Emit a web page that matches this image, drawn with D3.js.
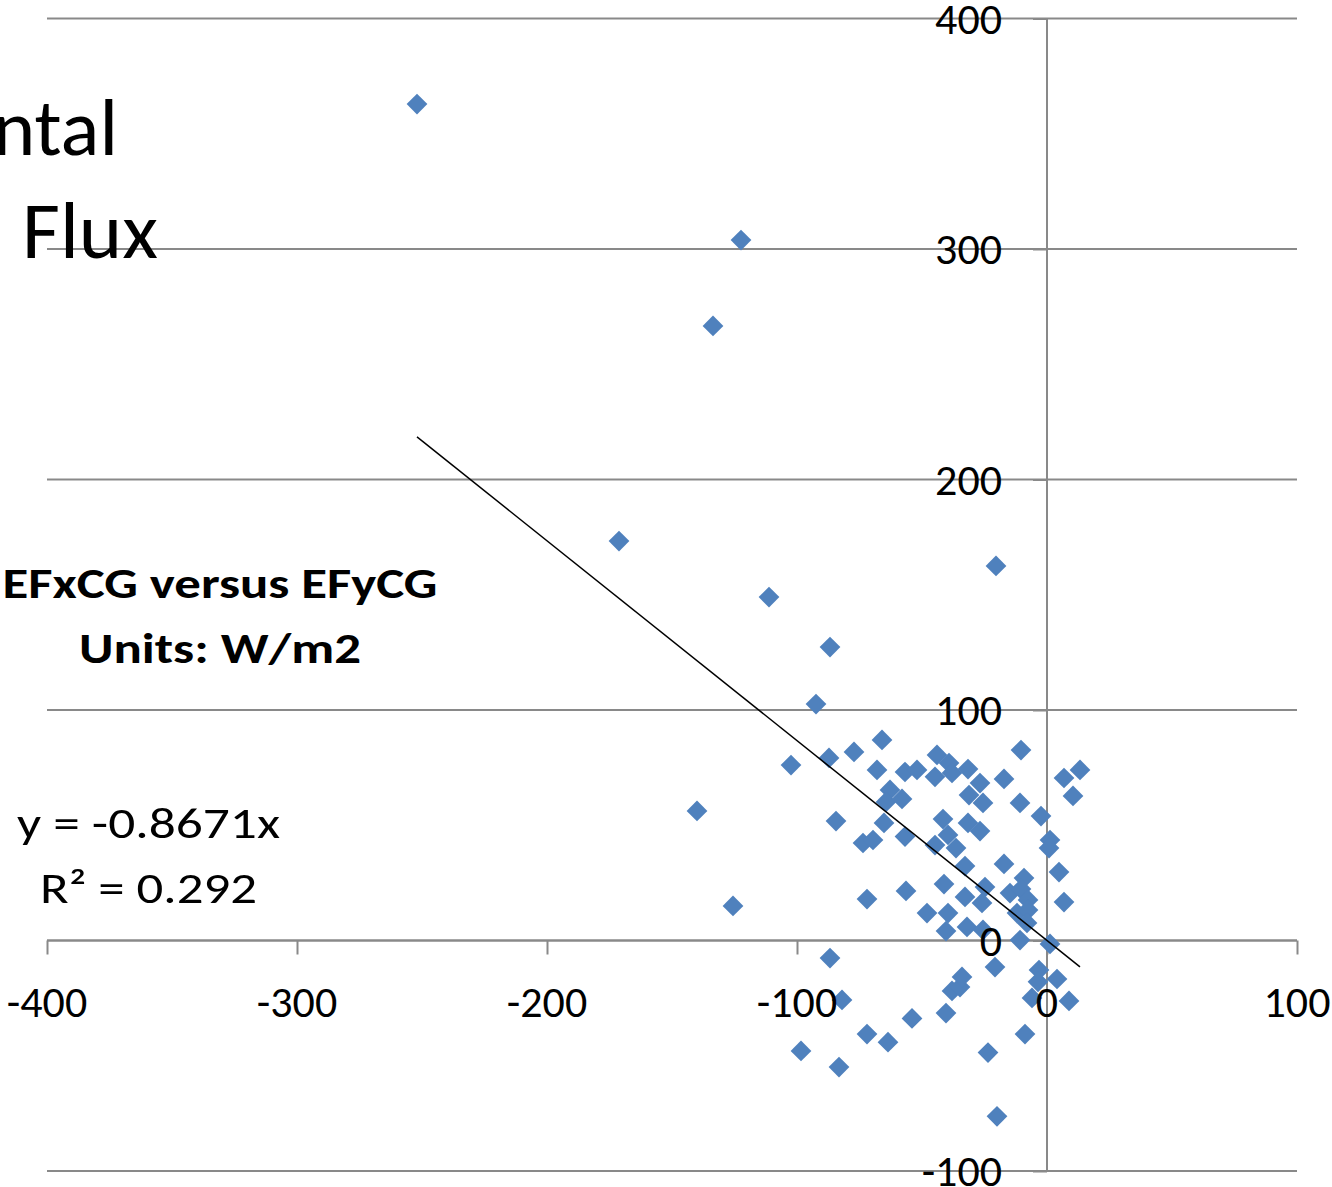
<!DOCTYPE html>
<html>
<head>
<meta charset="utf-8">
<script src="https://cdn.jsdelivr.net/npm/d3@7"></script>
<style>
  body { margin: 0; background: #fff; }
  svg { display: block; font-family: Calibri, Carlito, Lato, sans-serif; }
</style>
</head>
<body>
<svg id="chart"></svg>
<script>
const efx = [
  -252.0, -122.4, -133.6, -171.2, -20.4, -111.2, -86.8, -92.4, -102.4, -140.0,
  -125.6, -86.8, -98.4, -83.2, -82.0, -72.0, -63.6, -54.0, -40.4, -38.0,
  -34.8, -34.0, -20.8, -23.6, -20.0, -8.8, -3.2, -3.6, 4.0, -6.0,
  8.8, -10.8, 1.2, -87.2, -77.2, -66.0, -68.0, -56.8, -52.0, -44.0,
  -39.2, -38.0, -44.8, -31.6, -26.8, -31.2, -25.6, -17.2, -10.4, -10.8,
  -2.4, 6.8, 13.2, 10.4, -62.8, -64.4, -58.0, -84.4, -65.2, -73.6,
  -69.6, -56.8, -41.6, -39.6, -31.6, -26.8, -44.8, -36.4, 1.2, 0.8,
  -32.8, -17.2, 4.8, -9.2, -72.0, -56.4, -41.2, -32.8, -24.8, -26.0,
  -14.8, -10.4, -7.6, 6.8, -48.0, -39.6, -32.0, -40.4, -12.0, -7.6,
  -8.0, -25.6
];
const efy = [
  362.9, 303.9, 266.6, 173.3, 162.5, 149.0, 127.3, 102.6, 76.1, 56.2,
  15.0, -7.6, -47.9, -54.9, -25.8, -40.6, -44.1, -33.8, -31.5, -21.9,
  -20.2, -15.8, -11.5, -48.6, -76.3, -40.6, -12.8, -17.9, -16.7, -24.9,
  -26.2, 0.2, -1.5, 79.2, 81.8, 87.0, 74.0, 73.1, 74.0, 80.5,
  77.0, 72.7, 71.0, 74.4, 68.3, 63.1, 59.7, 70.1, 82.6, 59.7,
  54.0, 70.5, 74.0, 62.7, 65.3, 60.1, 61.4, 51.8, 51.0, 42.3,
  43.6, 45.1, 52.7, 45.8, 51.0, 47.5, 41.4, 40.1, 43.6, 40.1,
  32.3, 33.2, 29.7, 27.1, 18.0, 21.5, 24.5, 18.9, 23.2, 16.3,
  20.6, 22.3, 17.6, 16.7, 11.9, 11.9, 5.9, 4.1, 11.9, 13.2,
  7.6, 4.6
];
const xTicks = [-400, -300, -200, -100, 0, 100];
const yTicks = [-100, 0, 100, 200, 300, 400];
const slope = -0.8671;
const titleLines = ["ntal", "Flux"];
const subtitleLines = ["EFxCG versus EFyCG", "Units: W/m2"];
const equationLines = ["y = -0.8671x", "R\u00b2 = 0.292"];

const width = 1332;
const height = 1187;
const gray = "#898989";
const blue = "#4f81bd";

const svg = d3.select("#chart")
    .attr("width", width)
    .attr("height", height)
    .attr("viewBox", [0, 0, width, height]);

const xScale = d3.scaleLinear([-400, 100], [47, 1297]);
const yScale = d3.scaleLinear([-100, 400], [1171, 18.5]);

// gridlines
svg.append("g")
    .selectAll("line")
    .data(yTicks)
    .join("line")
    .attr("x1", xScale(-400))
    .attr("x2", xScale(100))
    .attr("y1", d => yScale(d))
    .attr("y2", d => yScale(d))
    .attr("stroke", gray)
    .attr("stroke-width", 2);

// x axis at y = 0
const xAxis = d3.axisBottom(xScale)
    .tickValues(xTicks)
    .tickSize(14);
const gx = svg.append("g")
    .attr("transform", `translate(0,${yScale(0)})`)
    .call(xAxis);
gx.select(".domain").attr("stroke", gray).attr("stroke-width", 2).attr("d", `M${xScale(-400)},0H${xScale(100)}`);
gx.selectAll(".tick line").attr("stroke", gray).attr("stroke-width", 2);
gx.selectAll(".tick text").remove();

// y axis at x = 0
const yAxis = d3.axisLeft(yScale)
    .tickValues(yTicks)
    .tickSize(14);
const gy = svg.append("g")
    .attr("transform", `translate(${xScale(0)},0)`)
    .call(yAxis);
gy.select(".domain").attr("stroke", gray).attr("stroke-width", 2).attr("d", `M0,${yScale(400)}V${yScale(-100)}`);
gy.selectAll(".tick line").attr("stroke", gray).attr("stroke-width", 2);
gy.selectAll(".tick text").remove();

// points
const points = efx.map((x, i) => ({x: x, y: efy[i]}));
const diamond = d3.symbol(d3.symbolSquare, 215);
svg.append("g")
    .selectAll("path")
    .data(points)
    .join("path")
    .attr("d", diamond)
    .attr("transform", d => `translate(${xScale(d.x)},${yScale(d.y)}) rotate(45)`)
    .attr("fill", blue);

// trendline over the data range
const xExtent = d3.extent(efx);
svg.append("line")
    .attr("x1", xScale(xExtent[0]))
    .attr("y1", yScale(slope * xExtent[0]))
    .attr("x2", xScale(xExtent[1]))
    .attr("y2", yScale(slope * xExtent[1]))
    .attr("stroke", "#000")
    .attr("stroke-width", 1.5);

// tick labels
svg.append("g")
    .selectAll("text")
    .data(yTicks)
    .join("text")
    .attr("x", 1002)
    .attr("y", d => yScale(d) + 15)
    .attr("text-anchor", "end")
    .attr("font-size", 44)
    .text(d => d);

svg.append("g")
    .selectAll("text")
    .data(xTicks)
    .join("text")
    .attr("x", d => xScale(d))
    .attr("y", 1017)
    .attr("text-anchor", "middle")
    .attr("font-size", 44)
    .text(d => d);

// titles
svg.append("text")
    .attr("x", 118)
    .attr("y", 155)
    .attr("text-anchor", "end")
    .attr("font-size", 81)
    .text(titleLines[0]);
svg.append("text")
    .attr("x", 22)
    .attr("y", 258)
    .attr("font-size", 81)
    .attr("textLength", 136)
    .attr("lengthAdjust", "spacingAndGlyphs")
    .text(titleLines[1]);

const subtitleWidths = [435, 282];
svg.append("g")
    .selectAll("text")
    .data(subtitleLines)
    .join("text")
    .attr("x", 220)
    .attr("y", (d, i) => 598 + i * 65)
    .attr("text-anchor", "middle")
    .attr("font-size", 42)
    .attr("font-weight", "bold")
    .attr("textLength", (d, i) => subtitleWidths[i])
    .attr("lengthAdjust", "spacingAndGlyphs")
    .text(d => d);

const equationWidths = [263, 217];
svg.append("g")
    .selectAll("text")
    .data(equationLines)
    .join("text")
    .attr("x", 148.5)
    .attr("y", (d, i) => 838 + i * 65)
    .attr("text-anchor", "middle")
    .attr("font-size", 44)
    .attr("textLength", (d, i) => equationWidths[i])
    .attr("lengthAdjust", "spacingAndGlyphs")
    .text(d => d);
</script>
</body>
</html>
